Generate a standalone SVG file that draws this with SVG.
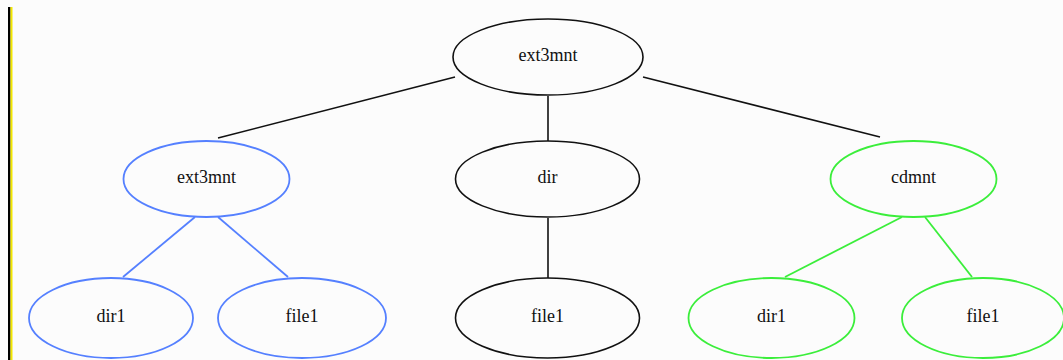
<svg xmlns="http://www.w3.org/2000/svg" width="1063" height="360" viewBox="0 0 1063 360">
<style>
.bg{fill:#fcfcfc}
ellipse{fill:none;stroke-width:1.6}
.k{stroke:#111}
.b{stroke:#5580ff;stroke-width:1.8}
.g{stroke:#3bee3b;stroke-width:1.8}
text{font-family:"Liberation Serif","Times New Roman",serif;font-size:18px;fill:#111;text-anchor:middle}
line{stroke-width:1.6}
</style>
<rect class="bg" x="0" y="0" width="1063" height="360"/>
<rect x="8" y="7" width="2.5" height="353" fill="#000"/>
<rect x="10.5" y="7" width="2" height="353" fill="#f4e800"/>
<g id="connectors">
<line class="k" x1="455" y1="77" x2="218" y2="138"/>
<line class="k" x1="548" y1="96" x2="548" y2="141"/>
<line class="k" x1="643" y1="77" x2="880" y2="137"/>
<line class="k" x1="548" y1="218" x2="548" y2="278"/>
<line class="b" x1="195" y1="217" x2="123" y2="277"/>
<line class="b" x1="218" y1="217" x2="288" y2="277"/>
<line class="g" x1="902" y1="217" x2="785" y2="277"/>
<line class="g" x1="925" y1="217" x2="972" y2="277"/>
</g>
<g id="root"><ellipse class="k" cx="548" cy="57" rx="95" ry="38"/><text x="548" y="61">ext3mnt</text></g>
<g id="ext3mnt2"><ellipse class="b" cx="206.5" cy="179" rx="83" ry="38"/><text x="206.5" y="183">ext3mnt</text></g>
<g id="dir"><ellipse class="k" cx="547.5" cy="179" rx="92" ry="38"/><text x="547.5" y="183">dir</text></g>
<g id="cdmnt"><ellipse class="g" cx="913.5" cy="179" rx="83" ry="38"/><text x="913.5" y="183">cdmnt</text></g>
<g id="dir1a"><ellipse class="b" cx="111" cy="318" rx="82" ry="40"/><text x="111" y="322">dir1</text></g>
<g id="file1a"><ellipse class="b" cx="302" cy="318" rx="84" ry="40"/><text x="302" y="322">file1</text></g>
<g id="file1b"><ellipse class="k" cx="547.5" cy="318" rx="92" ry="40"/><text x="547.5" y="322">file1</text></g>
<g id="dir1b"><ellipse class="g" cx="771.5" cy="318" rx="83" ry="40"/><text x="771.5" y="322">dir1</text></g>
<g id="file1c"><ellipse class="g" cx="983" cy="318" rx="81" ry="40"/><text x="983" y="322">file1</text></g>
</svg>
